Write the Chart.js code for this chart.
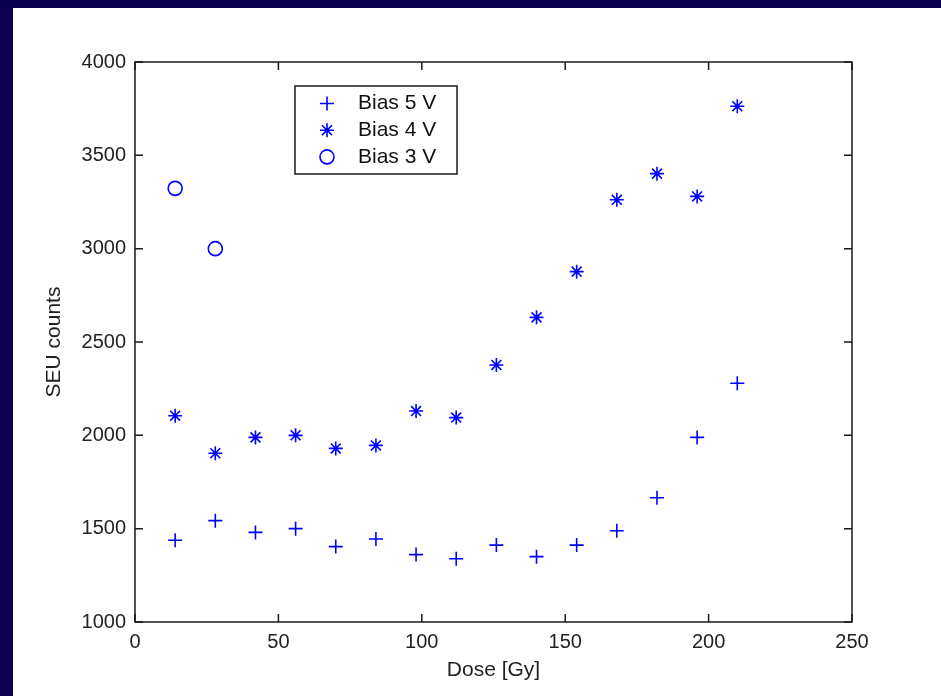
<!DOCTYPE html>
<html>
<head>
<meta charset="utf-8">
<script src="https://cdn.jsdelivr.net/npm/chart.js@4/dist/chart.umd.min.js"></script>
<style>
  html, body { margin: 0; padding: 0; background: #0b0052; overflow: hidden; }
  #frame { position: absolute; left: 13px; top: 8px; width: 928px; height: 688px; background: #fff; }
</style>
</head>
<body>
<div id="frame"><canvas id="chart" width="928" height="688"></canvas></div>
<script>
// dose values (Gy) and SEU counts
const dose = [14, 28, 42, 56, 70, 84, 98, 112, 126, 140, 154, 168, 182, 196, 210];
const bias5 = [1438, 1543, 1480, 1500, 1404, 1445, 1361, 1339, 1412, 1350, 1412, 1489, 1666, 1989, 2279];
const bias4 = [2105, 1904, 1989, 2000, 1930, 1946, 2130, 2095, 2377, 2632, 2877, 3262, 3402, 3280, 3763];
const dose3 = [14, 28];
const bias3 = [3323, 3000];
const seriesLabels = ['Bias 5 V', 'Bias 4 V', 'Bias 3 V'];

const FONT = '"Liberation Sans", Arial, sans-serif';
const BLUE = '#0000ff';

const pts = (xs, ys) => xs.map((x, i) => ({ x: x, y: ys[i] }));

// draws a legend marker the same way Chart.js draws its point styles
function marker(ctx, style, cx, cy, r) {
  ctx.beginPath();
  if (style === 'circle') {
    ctx.arc(cx, cy, r, 0, Math.PI * 2);
  } else {
    ctx.moveTo(cx - r, cy); ctx.lineTo(cx + r, cy);
    ctx.moveTo(cx, cy - r); ctx.lineTo(cx, cy + r);
    if (style === 'star') {
      const d = r * Math.SQRT1_2;
      ctx.moveTo(cx - d, cy - d); ctx.lineTo(cx + d, cy + d);
      ctx.moveTo(cx - d, cy + d); ctx.lineTo(cx + d, cy - d);
    }
  }
  ctx.stroke();
}

// box around the axes with inward ticks, plus the boxed legend
const axesBox = {
  id: 'axesBox',
  afterDatasetsDraw(chart) {
    const { ctx, chartArea: a, scales: { x, y } } = chart;
    ctx.save();
    ctx.strokeStyle = '#1a1a1a';
    ctx.lineWidth = 1.5;
    ctx.strokeRect(a.left, a.top, a.right - a.left, a.bottom - a.top);
    ctx.beginPath();
    x.ticks.forEach(t => {
      const px = x.getPixelForValue(t.value);
      ctx.moveTo(px, a.bottom); ctx.lineTo(px, a.bottom - 8);
      ctx.moveTo(px, a.top); ctx.lineTo(px, a.top + 8);
    });
    y.ticks.forEach(t => {
      const py = y.getPixelForValue(t.value);
      ctx.moveTo(a.left, py); ctx.lineTo(a.left + 8, py);
      ctx.moveTo(a.right, py); ctx.lineTo(a.right - 8, py);
    });
    ctx.stroke();

    // legend
    const lx = a.left + 160, ly = a.top + 24;
    ctx.fillStyle = '#fff';
    ctx.fillRect(lx, ly, 162, 88);
    ctx.strokeRect(lx, ly, 162, 88);
    ctx.font = '21px ' + FONT;
    ctx.textBaseline = 'middle';
    chart.data.datasets.forEach((ds, i) => {
      const cy = ly + 17.5 + i * 26.7;
      ctx.strokeStyle = BLUE;
      ctx.lineWidth = 1.6;
      marker(ctx, ds.pointStyle, lx + 32, cy, 7);
      ctx.fillStyle = '#111';
      ctx.fillText(ds.label, lx + 63, cy);
    });
    ctx.restore();
  }
};

new Chart(document.getElementById('chart'), {
  type: 'scatter',
  data: {
    datasets: [
      { label: seriesLabels[0], data: pts(dose, bias5), pointStyle: 'cross',
        pointRadius: 7, borderColor: BLUE, backgroundColor: BLUE, borderWidth: 1.6 },
      { label: seriesLabels[1], data: pts(dose, bias4), pointStyle: 'star',
        pointRadius: 7, borderColor: BLUE, backgroundColor: BLUE, borderWidth: 1.6 },
      { label: seriesLabels[2], data: pts(dose3, bias3), pointStyle: 'circle',
        pointRadius: 7, borderColor: BLUE, backgroundColor: 'rgba(0,0,0,0)', borderWidth: 1.6 }
    ]
  },
  options: {
    responsive: false,
    animation: false,
    layout: { padding: { left: 0, top: 54, right: 89, bottom: 0 } },
    plugins: { legend: { display: false }, tooltip: { enabled: false } },
    elements: { point: { hoverRadius: 7 } },
    scales: {
      x: {
        min: 0, max: 250,
        afterFit: s => { s.height = 74; },
        grid: { display: false, drawTicks: false },
        border: { display: false },
        ticks: { stepSize: 50, padding: 8, color: '#222', font: { family: FONT, size: 20 },
                 callback: v => String(v) },
        title: { display: true, text: 'Dose [Gy]', color: '#222',
                 font: { family: FONT, size: 21 }, padding: { top: 0, bottom: 13 } }
      },
      y: {
        min: 1000, max: 4000,
        afterFit: s => { s.width = 122; },
        grid: { display: false, drawTicks: false },
        border: { display: false },
        ticks: { stepSize: 500, padding: 9, color: '#222', font: { family: FONT, size: 20 },
                 callback: v => String(v) },
        title: { display: true, text: 'SEU counts', color: '#222',
                 font: { family: FONT, size: 21 }, padding: { top: 29, bottom: 0 } }
      }
    }
  },
  plugins: [axesBox]
});
</script>
</body>
</html>
